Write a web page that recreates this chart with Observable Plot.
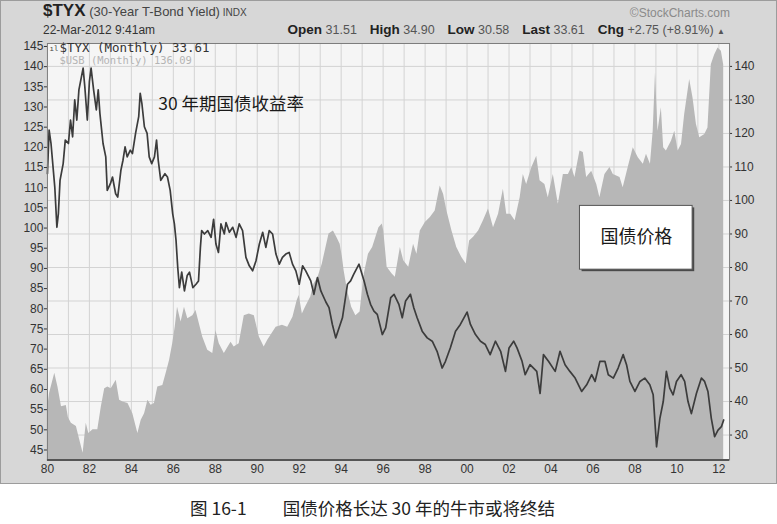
<!DOCTYPE html>
<html><head><meta charset="utf-8">
<script src="https://cdn.jsdelivr.net/npm/d3@7"></script>
<script src="https://cdn.jsdelivr.net/npm/@observablehq/plot@0.6"></script>
<style>
body{margin:0;background:#fff;font-family:"Liberation Sans",Arial,sans-serif;}
#panel{position:absolute;left:0;top:0;width:777px;height:484px;box-sizing:border-box;background:#d7d7d7;border:1px solid #9c9c9c;}
.h{position:absolute;white-space:nowrap;color:#222;}
.h b{color:#222;font-size:13.5px;margin-left:6px;}
#chart{position:absolute;left:-1px;top:39px;}
#caption{position:absolute;left:190px;top:496px;font-family:"Noto Sans CJK SC",sans-serif;font-size:17.5px;line-height:24px;color:#222;white-space:nowrap;}
</style></head>
<body>
<div id="panel">
  <div class="h" style="left:42px;top:0px;font-size:17px;line-height:20px;"><b style="font-size:17px;margin-left:0">$TYX</b><span style="font-size:13px;color:#444"> (30-Year T-Bond Yield)</span><span style="font-size:10px;color:#444"> INDX</span></div>
  <div class="h" style="left:42px;top:22px;font-size:12px;line-height:14px;color:#333">22-Mar-2012 9:41am</div>
  <div class="h" style="right:46px;top:5px;font-size:12px;line-height:14px;color:#8a8a8a">©StockCharts.com</div>
  <div class="h" style="right:51px;top:21px;font-size:12.5px;line-height:15px;color:#555"><b style="margin-left:0">Open</b> 31.51 &nbsp;<b>High</b> 34.90 &nbsp;<b>Low</b> 30.58 &nbsp;<b>Last</b> 33.61 &nbsp;<b>Chg</b> +2.75 (+8.91%) <span style="font-size:8px">▲</span></div>
  <div id="chart"></div>
</div>
<div id="caption"><span>图 16-1</span><span style="margin-left:36px">国债价格长达 30 年的牛市或将终结</span></div>
<script>
// ---- data ----
const tyxYears = [1980.0,1980.08,1980.17,1980.35,1980.45,1980.52,1980.6,1980.75,1980.85,1981.0,1981.1,1981.2,1981.3,1981.4,1981.5,1981.7,1981.78,1981.9,1982.0,1982.08,1982.2,1982.33,1982.42,1982.5,1982.65,1982.78,1982.85,1983.0,1983.1,1983.25,1983.35,1983.5,1983.6,1983.7,1983.8,1983.95,1984.05,1984.2,1984.35,1984.42,1984.5,1984.62,1984.75,1984.85,1984.97,1985.1,1985.2,1985.28,1985.4,1985.5,1985.6,1985.72,1985.85,1985.97,1986.05,1986.13,1986.21,1986.29,1986.4,1986.53,1986.66,1986.77,1986.93,1987.08,1987.2,1987.29,1987.35,1987.48,1987.64,1987.8,1987.92,1988.03,1988.15,1988.27,1988.43,1988.51,1988.67,1988.83,1988.99,1989.14,1989.3,1989.46,1989.62,1989.78,1989.94,1990.1,1990.26,1990.41,1990.57,1990.73,1990.89,1991.05,1991.2,1991.36,1991.52,1991.68,1991.84,1992.0,1992.16,1992.31,1992.55,1992.7,1992.87,1993.03,1993.27,1993.42,1993.58,1993.74,1993.9,1994.06,1994.3,1994.45,1994.6,1994.85,1995.09,1995.25,1995.4,1995.56,1995.72,1995.96,1996.12,1996.36,1996.52,1996.75,1996.91,1997.07,1997.3,1997.46,1997.62,1997.86,1998.1,1998.34,1998.57,1998.81,1998.97,1999.2,1999.45,1999.68,2000.0,2000.16,2000.4,2000.64,2000.87,2001.1,2001.35,2001.6,2001.83,2002.0,2002.22,2002.38,2002.62,2002.77,2003.0,2003.32,2003.48,2003.64,2003.88,2004.2,2004.43,2004.67,2004.9,2005.15,2005.46,2005.7,2005.94,2006.1,2006.33,2006.57,2006.73,2006.97,2007.2,2007.44,2007.6,2007.76,2008.0,2008.24,2008.47,2008.71,2008.87,2009.03,2009.19,2009.35,2009.5,2009.66,2009.82,2009.98,2010.2,2010.37,2010.53,2010.69,2010.93,2011.17,2011.32,2011.48,2011.64,2011.8,2011.96,2012.12,2012.23];
const tyxValues = [108,121,117,104,92,96,106,111,118,117,124,119,130,124,133,139.5,134,124,135.5,139.5,133,127,133,126,117,113,103,105,107,102,101,109,112,116,113,115,114,120,125,132,129,122,120,113,111,113,118,112,106,107,108,107,103,96,93,88,80,74,78.6,73,77.6,78.6,74,75,76,86,91,90,91,89,94.4,87,84.5,93,90,93.4,90.5,92,89,93,91,83,80.5,79,82,87,90.5,86,91,90,84,81,83,84,84.5,81,79,75,80.5,79,76,72,77,73,69.7,68,63,59,62,65,75,76,78,81,76,72,69,67,66,60,62,71,72,69,65,70,72,68,65,61,59,58,55,50,52,56,61,63,66.7,63,60,58,57,54,58,55,49,56,58,56,52,48,51,49,42.4,54,52,49,55,51,49,47,43,45,48,46,52,52,48,47,50,54,51,46,43,46,47,45,42,26.5,35,40,49,44,42,46,48,46,40,36.4,42.4,47,46,43,35,29.5,31.5,32.5,34.5];

const usbYears = [1980.0,1980.1,1980.35,1980.5,1980.67,1980.9,1981.0,1981.14,1981.38,1981.54,1981.7,1981.85,1981.97,1982.17,1982.4,1982.57,1982.73,1982.88,1983.04,1983.28,1983.44,1983.6,1983.84,1984.07,1984.31,1984.47,1984.63,1984.79,1984.94,1985.1,1985.26,1985.5,1985.66,1985.82,1985.97,1986.09,1986.2,1986.37,1986.53,1986.69,1986.93,1987.08,1987.24,1987.4,1987.64,1987.88,1988.03,1988.19,1988.43,1988.75,1988.9,1989.14,1989.38,1989.62,1989.86,1990.1,1990.33,1990.5,1990.7,1990.9,1991.2,1991.45,1991.7,1991.9,1992.0,1992.15,1992.3,1992.55,1992.7,1992.9,1993.1,1993.42,1993.63,1993.79,1993.95,1994.06,1994.14,1994.3,1994.5,1994.7,1994.9,1995.1,1995.3,1995.5,1995.8,1995.96,1996.03,1996.19,1996.43,1996.58,1996.82,1996.98,1997.22,1997.45,1997.61,1997.77,1998.01,1998.25,1998.48,1998.72,1998.88,1999.04,1999.28,1999.51,1999.75,1999.96,2000.12,2000.31,2000.55,2000.78,2001.02,2001.26,2001.5,2001.73,2001.89,2002.08,2002.29,2002.53,2002.68,2002.84,2003.08,2003.32,2003.48,2003.71,2003.87,2004.11,2004.35,2004.59,2004.83,2004.99,2005.14,2005.38,2005.54,2005.7,2005.94,2006.18,2006.33,2006.57,2006.81,2006.97,2007.29,2007.44,2007.68,2007.92,2008.16,2008.4,2008.55,2008.74,2008.87,2008.98,2009.1,2009.26,2009.37,2009.5,2009.74,2009.9,2010.06,2010.22,2010.37,2010.61,2010.77,2010.93,2011.09,2011.33,2011.48,2011.64,2011.8,2011.96,2012.12,2012.23];
const usbValues = [54.9,59,64,60.6,55.7,56,53,51.6,50.8,47.5,44.2,51.6,49.1,50,50,55.7,60.2,60.6,60.2,62.3,57.3,56.9,56.5,54,49.1,52.4,54,57.3,56.1,56.5,60.6,61,64,67.2,71.3,75.5,80.4,76.7,80.4,77.5,78.3,79.6,76.3,73,69.7,68.9,74.6,71.3,68.9,71.7,70.5,71.3,78.3,78.7,78.3,73,70.5,72.2,73.8,75.4,75.9,75.4,77.9,82,83.3,78.7,80.4,82.9,86.1,87.8,91.1,98.5,99.3,97.7,96,92.7,89.4,84.5,80.4,78.3,79.2,88.6,93.5,95.2,100.1,101,99.3,90.3,88.6,87.8,95.2,91.9,90.3,96,93.5,99.3,101.4,102.6,104.2,110.4,108.4,104.2,99.3,95.2,92.7,91.1,96.8,97.7,99.3,101.8,104.7,100.1,103.4,109.6,103.4,103.4,101.8,107.5,113.3,110.8,114.9,117.8,111.7,110.8,107.5,113.3,105.9,113.3,113.3,115,112.5,119.1,118.7,112.5,114.1,110.8,107.5,113.3,115,113.3,112.5,110,115,119.9,117.4,115.8,118.3,115.8,124,138.4,124,129.8,119.9,119.1,121.5,124,119.1,120.7,128.1,136.8,132.2,125.7,122.4,123.2,124.8,140.5,142.9,144.6,143.8,140.5];

const xTickYears = [1980,1982,1984,1986,1988,1990,1992,1994,1996,1998,2000,2002,2004,2006,2008,2010,2012];
const gridYears = d3.range(1980, 2013);
const rightTicks = [30,40,50,60,70,80,90,100,110,120,130,140];
const leftTicks = [45,50,55,60,65,70,75,80,85,90,95,100,105,110,115,120,125,130,135,140,145];
const legendTyx = ["$TYX (Monthly) 33.61"];
const legendUsb = ["$USB (Monthly) 136.09"];
const noteYield = ["30 年期国债收益率"];
const notePrice = ["国债价格"];

// left (USB) axis -> right (TYX) axis mapping, both axes share the same pixels
const toR = L => 25.54 + (L - 45) * 1.2041;
const toL = R => 45 + (R - 25.54) / 1.2041;
const yDomain = [22.57, 146.84];
const xDomain = [1980, 2012.51];

const tyx = tyxYears.map((t, i) => ({t, v: tyxValues[i]}));
const usb = usbYears.map((t, i) => ({t, v: toR(usbValues[i])}));

const chart = Plot.plot({
  width: 777, height: 444,
  marginTop: 3, marginBottom: 24, marginLeft: 47, marginRight: 47,
  style: {background: "transparent", fontFamily: "Liberation Sans, Arial, sans-serif"},
  x: {type: "linear", domain: xDomain},
  y: {type: "linear", domain: yDomain},
  marks: [
    Plot.frame({fill: "#f5f5f5", stroke: null}),
    Plot.ruleX(gridYears, {stroke: "#d3d3d3", strokeWidth: 1}),
    Plot.ruleY(rightTicks, {stroke: "#d3d3d3", strokeWidth: 1}),
    Plot.areaY(usb, {x: "t", y1: yDomain[0], y2: "v", fill: "#b7b7b7", curve: "linear"}),
    Plot.line(tyx, {x: "t", y: "v", stroke: "#3c3c3c", strokeWidth: 1.7, curve: "linear"}),
    Plot.frame({stroke: "#7d7d7d"}),
    Plot.ruleY([yDomain[0]], {stroke: "#555", strokeWidth: 2}),
    Plot.axisX({ticks: xTickYears, tickFormat: d => String(d % 100).padStart(2, "0"), tickSize: 0, tickPadding: 5, fontSize: 12, color: "#333", label: null}),
    Plot.axisY({anchor: "left", ticks: leftTicks.map(toR), tickFormat: d => Math.round(toL(d)), tickSize: 3, tickPadding: 1, fontSize: 12, color: "#333", label: null}),
    Plot.axisY({anchor: "right", ticks: rightTicks, tickSize: 2, tickPadding: 3, fontSize: 12, color: "#333", label: null}),
    Plot.text(["ıl"], {frameAnchor: "top-left", dx: 2, dy: 5, text: d => d, textAnchor: "start", lineAnchor: "middle", fontFamily: "DejaVu Sans Mono", fontSize: 7.5, fill: "#444"}),
    Plot.text(legendTyx, {frameAnchor: "top-left", dx: 12, dy: 5, text: d => d, textAnchor: "start", lineAnchor: "middle", fontFamily: "DejaVu Sans Mono", fontSize: 12.5, fill: "#333"}),
    Plot.text(legendUsb, {frameAnchor: "top-left", dx: 12, dy: 17.5, text: d => d, textAnchor: "start", lineAnchor: "middle", fontFamily: "DejaVu Sans Mono", fontSize: 10.5, fill: "#b4b4b4"}),
    Plot.text(noteYield, {frameAnchor: "top-left", dx: 111, dy: 61, text: d => d, textAnchor: "start", lineAnchor: "middle", fontFamily: "Noto Sans CJK SC", fontSize: 17.5, fill: "#1a1a1a"}),
    Plot.rect([0], {x1: 2005.48, x2: 2010.85, y1: 78.75, y2: 97.78, fill: "#4a4a4a"}),
    Plot.rect([0], {x1: 2005.38, x2: 2010.75, y1: 79.35, y2: 98.38, fill: "#ffffff", stroke: "#555", strokeWidth: 1}),
    Plot.text(notePrice, {x: 2008.07, y: 88.9, text: d => d, fontFamily: "Noto Sans CJK SC", fontSize: 18, fill: "#1a1a1a"})
  ]
});
document.getElementById("chart").appendChild(chart);
</script>
</body></html>
